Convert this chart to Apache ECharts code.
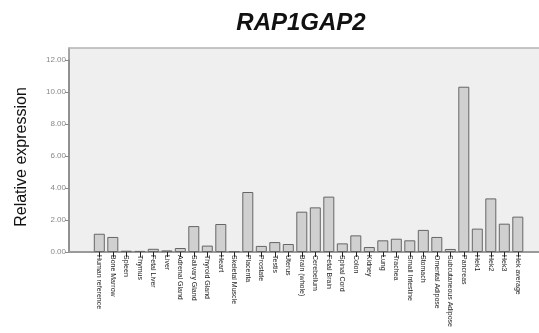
<!DOCTYPE html>
<html>
<head>
<meta charset="utf-8">
<script src="https://cdn.jsdelivr.net/npm/echarts@6/dist/echarts.min.js"></script>
<style>
html,body{margin:0;padding:0;background:#fff;}
#chart{width:539px;height:333px;}
</style>
</head>
<body>
<div id="chart"></div>
<script>
var titleText = 'RAP1GAP2';
var yAxisTitle = 'Relative expression';
var categories = ['Human reference','Bone Marrow','Spleen','Thymus','Fetal Liver','Liver','Adrenal Gland','Salivary Gland','Thyroid Gland','Heart','Skeletal Muscle','Placenta','Prostate','Testis','Uterus','Brain (whole)','Cerebellum','Fetal Brain','Spinal Cord','Colon','Kidney','Lung','Trachea','Small Intestine','Stomach','Omental Adipose','Subcutaneous Adipose','Pancreas','Hek1','Hek2','Hek3','Hek average'];
var values = [1.14,0.94,0.08,0.07,0.2,0.1,0.25,1.62,0.4,1.75,0.05,3.75,0.38,0.62,0.5,2.52,2.79,3.46,0.54,1.04,0.31,0.73,0.83,0.73,1.38,0.94,0.19,10.33,1.46,3.35,1.77,2.21];
var yTicks = {min:0, max:12, interval:2};

var chart = echarts.init(document.getElementById('chart'), null, {renderer:'canvas'});
chart.setOption({
  animation:false,
  backgroundColor:'#ffffff',
  title:{text:titleText, left:296, top:6, textAlign:'center',
    textStyle:{fontFamily:'Liberation Sans, Arial, sans-serif', fontSize:24, fontWeight:'bold', fontStyle:'italic', color:'#111'}},
  graphic:[{type:'text', x:22, y:157, rotation:Math.PI/2,
    style:{text:yAxisTitle, x:0, y:0, textAlign:'center', textVerticalAlign:'middle',
      font:'16px "Liberation Sans", Arial, sans-serif', fill:'#111'}}],
  grid:[
    {left:69, top:48, right:0, bottom:81, show:true, backgroundColor:'#efefef', borderWidth:0},
    {left:92.55, right:14.45, top:60, bottom:81}
  ],
  xAxis:[
    {type:'value', gridIndex:0, min:0, max:1, axisLine:{show:true, onZero:false, lineStyle:{color:'#9a9a9a', width:2}}, axisTick:{show:false}, axisLabel:{show:false}, splitLine:{show:false}},
    {type:'value', gridIndex:0, position:'top', min:0, max:1, axisLine:{show:true, onZero:false, lineStyle:{color:'#b4b4b4', width:1.5}}, axisTick:{show:false}, axisLabel:{show:false}, splitLine:{show:false}},
    {type:'category', gridIndex:1, data:categories, axisLine:{show:false},
      axisTick:{show:true, alignWithLabel:true, length:5, lineStyle:{color:'#222', width:1}},
      axisLabel:{interval:0, rotate:-90, fontSize:7, margin:3, color:'#222', fontFamily:'Liberation Sans, Arial, sans-serif'}}
  ],
  yAxis:[
    {type:'value', gridIndex:0, min:0, max:1, axisLine:{show:true, onZero:false, lineStyle:{color:'#8a8a8a', width:1.5}}, axisTick:{show:false}, axisLabel:{show:false}, splitLine:{show:false}},
    {type:'value', gridIndex:1, min:yTicks.min, max:yTicks.max, interval:yTicks.interval, offset:23.55,
      axisLine:{show:true, onZero:false, lineStyle:{color:'#8a8a8a', width:1.5}},
      axisTick:{show:true, length:4, lineStyle:{color:'#888'}},
      axisLabel:{fontSize:8, margin:3, color:'#888', fontFamily:'Liberation Sans, Arial, sans-serif', formatter:function(v){return v.toFixed(2);}},
      splitLine:{show:false}}
  ],
  series:[{type:'bar', xAxisIndex:2, yAxisIndex:1, data:values, barWidth:11,
    itemStyle:{color:'#d0d0d0', borderColor:'#666', borderWidth:1}}]
});
</script>
</body>
</html>
